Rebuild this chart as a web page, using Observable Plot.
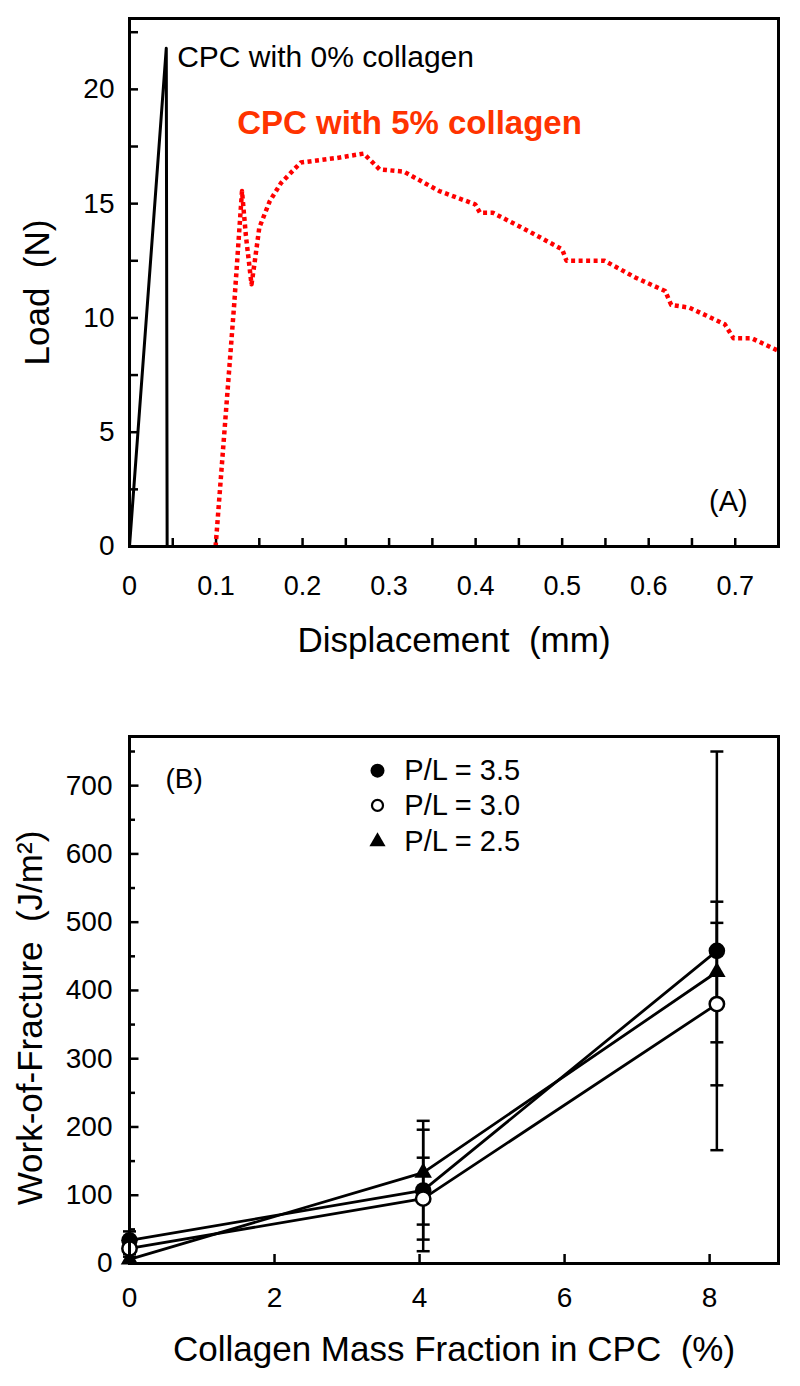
<!DOCTYPE html>
<html><head><meta charset="utf-8">
<script src="https://cdn.jsdelivr.net/npm/d3@7"></script>
<script src="https://cdn.jsdelivr.net/npm/@observablehq/plot@0.6"></script>
<style>
html,body{margin:0;padding:0;background:#fff}
#chart svg{display:block}
</style>
</head><body><div id="chart"></div>
<script>
// ---------- Panel A data: load vs displacement ----------
const dispNoCollagen = [0, 0.0425, 0.0435];
const loadNoCollagen = [0, 21.8, 0];
const dispCollagen5 = [0.0995, 0.121, 0.130, 0.1345, 0.141, 0.1445, 0.150, 0.162, 0.175, 0.198, 0.240, 0.2706, 0.289, 0.317, 0.358, 0.3995, 0.405, 0.420, 0.461, 0.500, 0.505, 0.549, 0.585, 0.619, 0.626, 0.647, 0.688, 0.698, 0.719, 0.75];
const loadCollagen5 = [0, 10.6, 15.55, 13.6, 11.47, 12.4, 13.95, 15.1, 15.9, 16.8, 17.0, 17.19, 16.5, 16.4, 15.55, 14.97, 14.6, 14.6, 13.8, 13.0, 12.5, 12.5, 11.76, 11.18, 10.57, 10.45, 9.72, 9.11, 9.11, 8.56];
const xTicksA = [0, 0.1, 0.2, 0.3, 0.4, 0.5, 0.6, 0.7];
const xMinorA = [0.05, 0.15, 0.25, 0.35, 0.45, 0.55, 0.65];
const yTicksA = [0, 5, 10, 15, 20];
const yMinorA = [2.5, 7.5, 12.5, 17.5, 22.5];
const annotTextA = ["CPC with 0% collagen", "CPC with 5% collagen", "(A)"];
const annotXA = [0.0551, 0.1244, 0.692];
const annotYA = [21.38, 18.49, 1.97];

// ---------- Panel B data: work-of-fracture ----------
const collagenFraction = [0, 4.05, 8.1];
const seriesNames = ["P/L = 3.5", "P/L = 3.0", "P/L = 2.5"];
const wofPL35 = [34, 107, 458];
const sdPL35 = [13, 89, 292];
const wofPL30 = [22, 95, 380];
const sdPL30 = [8, 60, 119];
const wofPL25 = [6, 133, 427];
const sdPL25 = [4, 76, 103];
const xTicksB = [0, 2, 4, 6, 8];
const yTicksB = [0, 100, 200, 300, 400, 500, 600, 700];
const yMinorB = [50, 150, 250, 350, 450, 550, 650, 750];
const legendX = [3.42, 3.79];
const legendY = [722, 671, 618];
const panelLabelB = {text: "(B)", x: 0.754, y: 709};

const font = "'Liberation Sans', Arial, Helvetica, sans-serif";

// Build tables
const lineNo = dispNoCollagen.map((x, i) => ({x, y: loadNoCollagen[i]}));
const line5 = dispCollagen5.map((x, i) => ({x, y: loadCollagen5[i]}));
const annA = annotTextA.map((t, i) => ({text: t, x: annotXA[i], y: annotYA[i]}));

const wofs = [wofPL35, wofPL30, wofPL25];
const sds = [sdPL35, sdPL30, sdPL25];
const dataB = [];
seriesNames.forEach((s, k) => collagenFraction.forEach((c, i) => dataB.push({series: s, k, x: c, y: wofs[k][i], sd: sds[k][i]})));
const caps = dataB.flatMap(d => [{x: d.x, y: d.y - d.sd}, {x: d.x, y: d.y + d.sd}]);
const legendData = seriesNames.map((s, k) => ({text: s, k, y: legendY[k]}));

const capSymbol = {draw(ctx) { ctx.moveTo(-6.5, 0); ctx.lineTo(6.5, 0); }};

const plotA = Plot.plot({
  width: 800, height: 693,
  marginLeft: 129, marginRight: 22, marginTop: 18, marginBottom: 147,
  style: {fontFamily: font, background: "white", overflow: "visible", color: "black"},
  x: {domain: [0, 0.75]},
  y: {domain: [0, 23.1]},
  marks: [
    Plot.axisX(xMinorA, {tickSize: -8, tickFormat: () => "", strokeWidth: 2.5, label: null}),
    Plot.axisX(xTicksA, {tickSize: -8, tickFormat: () => "", strokeWidth: 2.5, label: null}),
    Plot.axisX(xTicksA, {tickSize: 0, tickPadding: 29, fontSize: 27, label: null, tickFormat: d => String(d)}),
    Plot.axisY(yMinorA, {tickSize: -9, tickFormat: () => "", strokeWidth: 2.5, label: null}),
    Plot.axisY(yTicksA, {tickSize: -9, tickFormat: () => "", strokeWidth: 2.5, label: null}),
    Plot.axisY(yTicksA, {tickSize: 0, tickPadding: 15, fontSize: 28, label: null}),
    Plot.line(lineNo, {x: "x", y: "y", stroke: "black", strokeWidth: 3}),
    Plot.line(line5, {x: "x", y: "y", stroke: "#ff0000", strokeWidth: 4.5, strokeDasharray: "4,3.5", strokeLinecap: "butt"}),
    Plot.frame({stroke: "black", strokeWidth: 3}),
    Plot.text([annA[0]], {x: "x", y: "y", text: "text", textAnchor: "start", fontSize: 30, fill: "black"}),
    Plot.text([annA[1]], {x: "x", y: "y", text: "text", textAnchor: "start", fontSize: 33, fontWeight: "bold", fill: "#ff3300"}),
    Plot.text([annA[2]], {x: "x", y: "y", text: "text", textAnchor: "middle", fontSize: 29, fill: "black"}),
    Plot.text(["Displacement\u00a0 (mm)"], {frameAnchor: "bottom", dy: 94, textAnchor: "middle", lineAnchor: "middle", fontSize: 35, fill: "black"}),
    Plot.text(["Load\u00a0 (N)"], {frameAnchor: "left", dx: -91.5, dy: 10, rotate: -90, textAnchor: "middle", lineAnchor: "middle", fontSize: 35, fill: "black"})
  ]
});

const plotB = Plot.plot({
  width: 800, height: 693,
  marginLeft: 129, marginRight: 22, marginTop: 43, marginBottom: 123,
  style: {fontFamily: font, background: "white", overflow: "visible", color: "black"},
  x: {domain: [0, 8.95]},
  y: {domain: [0, 772]},
  marks: [
    Plot.axisX(xTicksB, {tickSize: -9, tickFormat: () => "", strokeWidth: 2.5, label: null}),
    Plot.axisX(xTicksB, {tickSize: 0, tickPadding: 24, fontSize: 28, label: null}),
    Plot.axisY(yMinorB, {tickSize: -6, tickFormat: () => "", strokeWidth: 2.5, label: null}),
    Plot.axisY(yTicksB, {tickSize: -9.5, tickFormat: () => "", strokeWidth: 2.5, label: null}),
    Plot.axisY(yTicksB, {tickSize: 0, tickPadding: 17, fontSize: 28, label: null}),
    Plot.line(dataB, {x: "x", y: "y", z: "series", stroke: "black", strokeWidth: 2.8}),
    Plot.ruleX(dataB, {x: "x", y1: d => d.y - d.sd, y2: d => d.y + d.sd, stroke: "black", strokeWidth: 2.5}),
    Plot.dot(caps, {x: "x", y: "y", symbol: capSymbol, fill: "none", stroke: "black", strokeWidth: 2.5}),
    Plot.dot(dataB.filter(d => d.k === 0), {x: "x", y: "y", r: 8.3, fill: "black"}),
    Plot.dot(dataB.filter(d => d.k === 2), {x: "x", y: "y", symbol: "triangle", r: 6.5, fill: "black"}),
    Plot.dot(dataB.filter(d => d.k === 1), {x: "x", y: "y", r: 7.2, fill: "white", stroke: "black", strokeWidth: 2.5}),
    Plot.frame({stroke: "black", strokeWidth: 3}),
    Plot.text([panelLabelB], {x: "x", y: "y", text: "text", fontSize: 28, fill: "black"}),
    Plot.dot(legendData.filter(d => d.k === 0), {x: () => legendX[0], y: "y", r: 7, fill: "black"}),
    Plot.dot(legendData.filter(d => d.k === 1), {x: () => legendX[0], y: "y", r: 5.5, fill: "white", stroke: "black", strokeWidth: 2.2}),
    Plot.dot(legendData.filter(d => d.k === 2), {x: () => legendX[0], y: "y", symbol: "triangle", r: 6, fill: "black"}),
    Plot.text(legendData, {x: () => legendX[1], y: "y", text: "text", textAnchor: "start", fontSize: 29, fill: "black"}),
    Plot.text(["Collagen Mass Fraction in CPC\u00a0 (%)"], {frameAnchor: "bottom", dy: 86, textAnchor: "middle", lineAnchor: "middle", fontSize: 35, fill: "black"}),
    Plot.text(["Work-of-Fracture\u00a0 (J/m\u00b2)"], {frameAnchor: "left", dx: -99, dy: 18, rotate: -90, textAnchor: "middle", lineAnchor: "middle", fontSize: 35, fill: "black"})
  ]
});

const root = document.getElementById("chart");
root.appendChild(plotA);
root.appendChild(plotB);
</script>
</body></html>
